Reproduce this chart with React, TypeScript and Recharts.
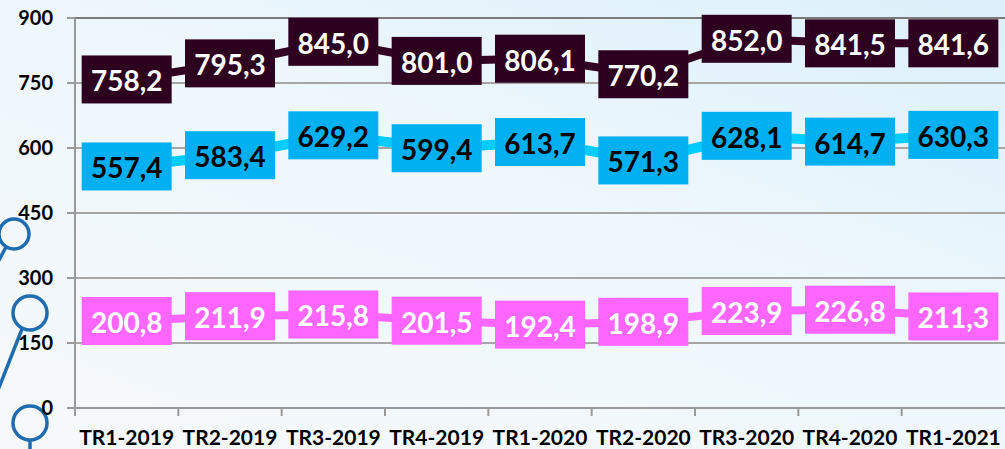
import React from "react";
import {
    LineChart,
    Line,
    XAxis,
    YAxis,
    CartesianGrid,
    ReferenceLine,
    LabelList,
} from "recharts";

const quarters = [
    "TR1-2019",
    "TR2-2019",
    "TR3-2019",
    "TR4-2019",
    "TR1-2020",
    "TR2-2020",
    "TR3-2020",
    "TR4-2020",
    "TR1-2021",
];
const topSeries = [758.2, 795.3, 845.0, 801.0, 806.1, 770.2, 852.0, 841.5, 841.6];
const midSeries = [557.4, 583.4, 629.2, 599.4, 613.7, 571.3, 628.1, 614.7, 630.3];
const lowSeries = [200.8, 211.9, 215.8, 201.5, 192.4, 198.9, 223.9, 226.8, 211.3];
const yTicks = [0, 150, 300, 450, 600, 750, 900];

const data = quarters.map((q, i) => ({
    q,
    top: topSeries[i],
    mid: midSeries[i],
    low: lowSeries[i],
}));

const W = 1005;
const H = 449;
const AXIS_W = 75;
const BAND = (W - AXIS_W) / quarters.length;
const FONT = "Lato, 'Open Sans', sans-serif";

const fmt = (v: number) => v.toFixed(1).replace(".", ",");

const boxLabel = (bg: string, fg: string) => (props: any) => {
    const { x, y, value } = props;
    if (x == null || y == null) return null;
    return (
        <g>
            <rect x={x - 45} y={y - 24} width={90} height={48} fill={bg} />
            <text
                x={x}
                y={y + 1}
                textAnchor="middle"
                dominantBaseline="central"
                fill={fg}
                fontFamily={FONT}
                fontWeight={700}
                fontSize={28}
            >
                {fmt(value)}
            </text>
        </g>
    );
};

const QuarterTick = (props: any) => {
    const { x, y, payload } = props;
    return (
        <g>
            <line x1={x - BAND / 2} x2={x - BAND / 2} y1={y} y2={y + 8} stroke="#9a9a9a" strokeWidth={2} />
            <text
                x={x}
                y={y + 37}
                textAnchor="middle"
                fill="#000"
                fontFamily={FONT}
                fontWeight={700}
                fontSize={21}
            >
                {payload.value}
            </text>
        </g>
    );
};

const Decoration = () => (
    <svg width={W} height={H} style={{ position: "absolute", left: 0, top: 0 }}>
        <g fill="none" stroke="#1f6cb0" strokeWidth={3.5}>
            <circle cx={14} cy={234} r={15} />
            <line x1={6} y1={247} x2={-2} y2={262} />
            <circle cx={30} cy={313} r={17} />
            <line x1={22} y1={329} x2={-2} y2={390} />
            <circle cx={30} cy={423} r={17} />
            <line x1={30} y1={440} x2={30} y2={452} />
        </g>
    </svg>
);

const App: React.FC = () => {
    return (
        <div
            style={{
                position: "absolute",
                left: 0,
                top: 0,
                width: W,
                height: H,
                overflow: "hidden",
                background:
                    "linear-gradient(200deg, #dcf0fb 0%, #eef7fc 45%, #f6f9fc 100%)",
            }}
        >
            <Decoration />
            <div style={{ position: "absolute", left: 0, top: 0 }}>
                <LineChart
                    width={W}
                    height={H}
                    data={data}
                    margin={{ top: 18, right: 0, left: 0, bottom: 0 }}
                >
                    <CartesianGrid vertical={false} stroke="#a6a6a6" strokeWidth={2} />
                    <ReferenceLine y={900} stroke="#7a7a7a" strokeWidth={2} />
                    <XAxis
                        dataKey="q"
                        height={41}
                        interval={0}
                        padding={{ left: BAND / 2, right: BAND / 2 }}
                        tickSize={0}
                        tickMargin={0}
                        tick={<QuarterTick />}
                        axisLine={{ stroke: "#9a9a9a", strokeWidth: 2 }}
                        tickLine={false}
                    />
                    <YAxis
                        width={AXIS_W}
                        domain={[0, 900]}
                        ticks={yTicks}
                        interval={0}
                        tickSize={8}
                        tickMargin={14}
                        axisLine={{ stroke: "#9a9a9a", strokeWidth: 2 }}
                        tickLine={{ stroke: "#9a9a9a", strokeWidth: 2 }}
                        tick={{
                            fill: "#000",
                            fontFamily: FONT,
                            fontWeight: 700,
                            fontSize: 20,
                        }}
                    />
                    <Line
                        dataKey="low"
                        stroke="#ff66ff"
                        strokeWidth={8}
                        dot={false}
                        isAnimationActive={false}
                    >
                        <LabelList dataKey="low" content={boxLabel("#ff66ff", "#ffffff")} />
                    </Line>
                    <Line
                        dataKey="mid"
                        stroke="#00ccff"
                        strokeWidth={10}
                        dot={false}
                        isAnimationActive={false}
                    >
                        <LabelList dataKey="mid" content={boxLabel("#00b0f0", "#000000")} />
                    </Line>
                    <Line
                        dataKey="top"
                        stroke="#330022"
                        strokeWidth={8}
                        dot={false}
                        isAnimationActive={false}
                    >
                        <LabelList dataKey="top" content={boxLabel("#2e0020", "#ffffff")} />
                    </Line>
                </LineChart>
            </div>
        </div>
    );
};

export default App;
